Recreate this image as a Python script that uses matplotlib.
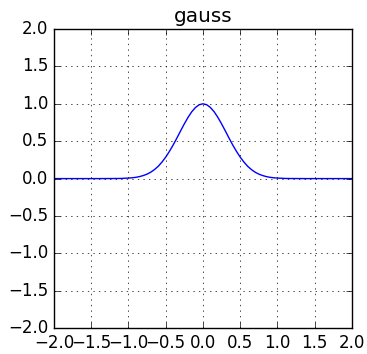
import matplotlib
matplotlib.use('Agg')
import matplotlib.pyplot as plt

# values (finer steps around the peak)
x_vals = [-2.0, -1.8, -1.6, -1.4, -1.2, -1.1,
          -1.0, -0.95, -0.9, -0.85, -0.8, -0.75, -0.7, -0.65, -0.6, -0.55,
          -0.5, -0.45, -0.4, -0.35, -0.3, -0.25, -0.2, -0.15, -0.1, -0.05,
          0.0, 0.05, 0.1, 0.15, 0.2, 0.25, 0.3, 0.35, 0.4, 0.45,
          0.5, 0.55, 0.6, 0.65, 0.7, 0.75, 0.8, 0.85, 0.9, 0.95,
          1.0, 1.1, 1.2, 1.4, 1.6, 1.8, 2.0]
y_vals = [0.0, 0.0, 0.0, 0.0, 0.001, 0.002,
          0.007, 0.011, 0.017, 0.027, 0.041, 0.060, 0.086, 0.121, 0.165, 0.221,
          0.287, 0.364, 0.449, 0.542, 0.638, 0.732, 0.819, 0.894, 0.951, 0.988,
          1.0, 0.988, 0.951, 0.894, 0.819, 0.732, 0.638, 0.542, 0.449, 0.364,
          0.287, 0.221, 0.165, 0.121, 0.086, 0.060, 0.041, 0.027, 0.017, 0.011,
          0.007, 0.002, 0.001, 0.0, 0.0, 0.0, 0.0]
ticks = [-2.0, -1.5, -1.0, -0.5, 0.0, 0.5, 1.0, 1.5, 2.0]

plt.style.use('classic')
fig = plt.figure(figsize=(3.67, 3.54), dpi=100, facecolor='white')
ax = fig.add_axes([0.147, 0.073, 0.812, 0.845])
ax.plot(x_vals, y_vals, 'b-')
ax.set_xlim(-2, 2)
ax.set_ylim(-2, 2)
ax.set_xticks(ticks)
ax.set_yticks(ticks)
ax.grid(True)
ax.set_title('gauss')

fig.savefig('out.png', dpi=100, facecolor='white')
